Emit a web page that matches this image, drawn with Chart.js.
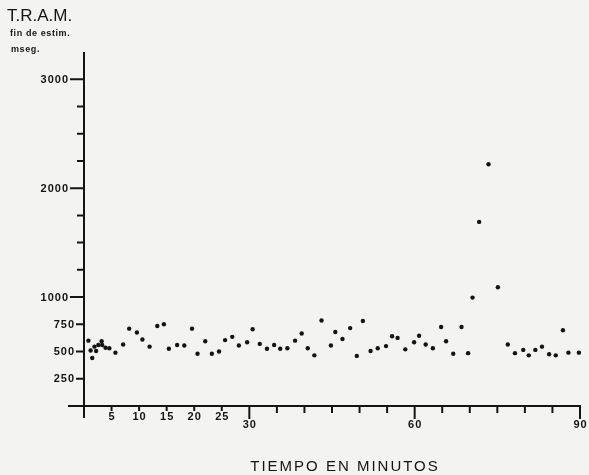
<!DOCTYPE html>
<html>
<head>
<meta charset="utf-8">
<script src="https://cdn.jsdelivr.net/npm/chart.js@4"></script>
<style>
  body { margin: 0; background: #f3f3f1; }
  canvas { display: block; }
</style>
</head>
<body>
<canvas id="tramChart" width="589" height="475"></canvas>
<script>
// Tiempo de reacción (mseg) a lo largo de la sesión
const minutos = [0.8, 1.2, 1.5, 1.9, 2.2, 2.6, 3.2, 3.3, 3.9, 4.6,
  5.7, 7.1, 8.2, 9.6, 10.6, 11.9, 13.3, 14.5, 15.4, 16.9,
  18.2, 19.6, 20.6, 22.0, 23.2, 24.5, 25.6, 26.9, 28.1, 29.6,
  30.6, 31.9, 33.2, 34.5, 35.6, 36.9, 38.3, 39.5, 40.6, 41.8,
  43.1, 44.8, 45.6, 46.9, 48.3, 49.5, 50.6, 52.0, 53.3, 54.8,
  55.9, 56.9, 58.3, 59.9, 60.8, 62.0, 63.3, 64.8, 65.7, 67.0,
  68.5, 69.7, 70.5, 71.7, 73.4, 75.1, 76.9, 78.2, 79.7, 80.7,
  81.9, 83.1, 84.4, 85.6, 86.9, 87.9, 89.8];
const tram = [600, 510, 440, 545, 505, 560, 595, 560, 535, 530,
  490, 565, 710, 675, 610, 545, 735, 750, 525, 560,
  555, 710, 480, 595, 480, 500, 605, 635, 555, 585,
  705, 570, 525, 560, 525, 530, 600, 665, 530, 465,
  785, 555, 680, 615, 715, 460, 780, 505, 530, 550,
  640, 625, 520, 585, 645, 565, 530, 725, 595, 480,
  725, 485, 995, 1690, 2220, 1090, 565, 485, 515, 465,
  515, 545, 475, 465, 695, 490, 490];

// marcas de los ejes
const yMayores = [1000, 2000, 3000];
const yMenores = [250, 500, 750];
const ySinTexto = [1250, 1500, 1750, 2250, 2500, 2750];
const xChicos = [5, 10, 15, 20, 25];
const xMayores = [30, 60, 90];
const xSinTexto = [35, 40, 45, 50, 55, 65, 70, 75, 80, 85];

const tinta = '#141414';

// ejes dibujados a mano sobre las escalas del gráfico
const ejesPlugin = {
  id: 'ejes',
  afterDraw(chart) {
    const ctx = chart.ctx;
    const x = chart.scales.x, y = chart.scales.y;
    const x0 = x.getPixelForValue(0), y0 = y.getPixelForValue(0);
    ctx.save();
    ctx.strokeStyle = tinta;
    ctx.fillStyle = tinta;
    ctx.lineWidth = 2;
    ctx.lineCap = 'butt';

    // líneas de los ejes
    ctx.beginPath();
    ctx.moveTo(x0, chart.chartArea.top);
    ctx.lineTo(x0, y0 + 12);
    ctx.moveTo(x0 - 16, y0);
    ctx.lineTo(x.getPixelForValue(90) + 1, y0);
    ctx.stroke();

    // eje Y
    ctx.font = 'bold 11px "Liberation Sans", Arial, sans-serif';
    ctx.letterSpacing = '1px';
    ctx.textAlign = 'right';
    ctx.textBaseline = 'middle';
    ctx.beginPath();
    yMayores.forEach(v => {
      const py = y.getPixelForValue(v);
      ctx.moveTo(x0 - 14, py); ctx.lineTo(x0, py);
      ctx.fillText(String(v), x0 - 15, py + 0.5);
    });
    yMenores.forEach(v => {
      const py = y.getPixelForValue(v);
      ctx.moveTo(x0 - 8, py); ctx.lineTo(x0, py);
      ctx.fillText(String(v), x0 - 9, py + 0.5);
    });
    ySinTexto.forEach(v => {
      const py = y.getPixelForValue(v);
      ctx.moveTo(x0 - 7, py); ctx.lineTo(x0, py);
    });

    // eje X
    ctx.textAlign = 'center';
    xChicos.forEach(v => {
      const px = x.getPixelForValue(v);
      ctx.moveTo(px, y0); ctx.lineTo(px, y0 + 5);
      ctx.fillText(String(v), px + 0.5, y0 + 11);
    });
    xSinTexto.forEach(v => {
      const px = x.getPixelForValue(v);
      ctx.moveTo(px, y0); ctx.lineTo(px, y0 + 7);
    });
    xMayores.forEach(v => {
      const px = x.getPixelForValue(v);
      ctx.moveTo(px, y0); ctx.lineTo(px, y0 + 13);
      ctx.fillText(String(v), px + 0.5, y0 + 19);
    });
    ctx.stroke();

    // títulos
    ctx.textAlign = 'left';
    ctx.letterSpacing = '0px';
    ctx.font = '17px "Liberation Sans", Arial, sans-serif';
    ctx.fillText('T.R.A.M.', 7, 16);
    ctx.font = 'bold 9px "Liberation Sans", Arial, sans-serif';
    ctx.letterSpacing = '0.6px';
    ctx.fillText('fin de estim.', 10, 34);
    ctx.fillText('mseg.', 11, 50);

    ctx.textAlign = 'center';
    ctx.font = '15px "Liberation Sans", Arial, sans-serif';
    ctx.letterSpacing = '2px';
    ctx.fillText('TIEMPO EN MINUTOS', 345, 467);
    ctx.restore();
  }
};

const ctx = document.getElementById('tramChart').getContext('2d');
const tramChart = new Chart(ctx, {
  type: 'scatter',
  data: {
    datasets: [{
      data: minutos.map((m, i) => ({ x: m, y: tram[i] })),
      backgroundColor: tinta,
      borderWidth: 0,
      pointRadius: 2.2,
      clip: false
    }]
  },
  options: {
    responsive: false,
    animation: false,
    layout: { padding: { left: 84, right: 9, top: 52, bottom: 69 } },
    plugins: { legend: { display: false }, tooltip: { enabled: false } },
    scales: {
      x: { type: 'linear', min: 0, max: 90, display: false },
      y: { type: 'linear', min: 0, max: 3250, display: false }
    }
  },
  plugins: [ejesPlugin]
});
</script>
</body>
</html>
